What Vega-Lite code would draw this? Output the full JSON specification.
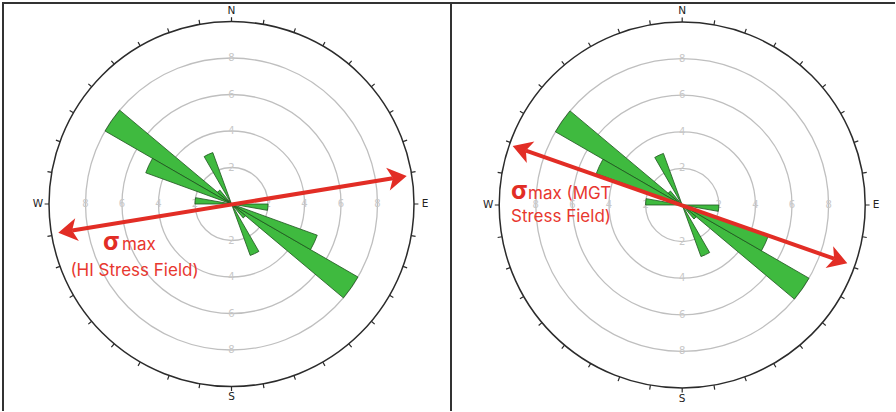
{
  "$schema": "https://vega.github.io/schema/vega-lite/v6.json",
  "background": "white",
  "padding": {"left": 2, "top": 2, "right": 0, "bottom": 0},
  "spacing": 0,
  "bounds": "flush",
  "config": {
    "view": {"stroke": null},
    "axis": {"disable": true},
    "legend": {"disable": true},
    "text": {"font": "Inter"}
  },
  "resolve": {"scale": {"angle": "independent"}},
  "datasets": {
    "rings": [{"r": 2}, {"r": 4}, {"r": 6}, {"r": 8}],
    "outer": [{"r": 10}],
    "ringLabels": [
      {"az": 0, "r": 2}, {"az": 0, "r": 4}, {"az": 0, "r": 6}, {"az": 0, "r": 8},
      {"az": 90, "r": 2}, {"az": 90, "r": 4}, {"az": 90, "r": 6}, {"az": 90, "r": 8},
      {"az": 180, "r": 2}, {"az": 180, "r": 4}, {"az": 180, "r": 6}, {"az": 180, "r": 8},
      {"az": 270, "r": 2}, {"az": 270, "r": 4}, {"az": 270, "r": 6}, {"az": 270, "r": 8}
    ],
    "compass": [
      {"az": 0, "dir": "N"}, {"az": 90, "dir": "E"}, {"az": 180, "dir": "S"}, {"az": 270, "dir": "W"}
    ],
    "ticks": [
      {"az": 0}, {"az": 10}, {"az": 20}, {"az": 30}, {"az": 40}, {"az": 50},
      {"az": 60}, {"az": 70}, {"az": 80}, {"az": 90}, {"az": 100}, {"az": 110},
      {"az": 120}, {"az": 130}, {"az": 140}, {"az": 150}, {"az": 160}, {"az": 170},
      {"az": 180}, {"az": 190}, {"az": 200}, {"az": 210}, {"az": 220}, {"az": 230},
      {"az": 240}, {"az": 250}, {"az": 260}, {"az": 270}, {"az": 280}, {"az": 290},
      {"az": 300}, {"az": 310}, {"az": 320}, {"az": 330}, {"az": 340}, {"az": 350}
    ],
    "petals": [
      {"a1": 300, "a2": 310, "n": 8}, {"a1": 120, "a2": 130, "n": 8},
      {"a1": 290, "a2": 300, "n": 5}, {"a1": 110, "a2": 120, "n": 5},
      {"a1": 330, "a2": 340, "n": 3}, {"a1": 150, "a2": 160, "n": 3},
      {"a1": 270, "a2": 280, "n": 2}, {"a1": 90, "a2": 100, "n": 2},
      {"a1": 310, "a2": 320, "n": 1}, {"a1": 130, "a2": 140, "n": 1}
    ],
    "hiArrow": [{"end": "W", "x": -8.734, "y": -1.449}, {"end": "E", "x": 8.844, "y": 1.411}],
    "mgtArrow": [{"end": "W", "x": -8.565, "y": 2.981}, {"end": "E", "x": 8.323, "y": -2.942}]
  },
  "hconcat": [
    {
      "width": 448,
      "height": 408,
      "view": {"stroke": "#333333", "strokeWidth": 2, "strokeDash": [448, 856, 408]},
      "layer": [
        {
          "data": {"name": "rings"},
          "mark": {"type": "arc", "filled": false, "stroke": "#bfbfbf", "strokeWidth": 1.3},
          "encoding": {
            "x": {"datum": 0, "scale": {"domain": [-12.521, 12.027], "nice": false, "zero": false}},
            "y": {"datum": 0, "scale": {"domain": [-11.342, 11.014], "nice": false, "zero": false}},
            "theta": {"datum": 0, "scale": {"type": "linear", "domain": [0, 360], "zero": false}},
            "theta2": {"datum": 360},
            "radius": {"field": "r", "type": "quantitative", "stack": null, "scale": {"type": "linear", "domain": [0, 10], "range": [0, 182.5], "zero": true}}
          }
        },
        {
          "data": {"name": "ringLabels"},
          "mark": {"type": "text", "color": "#c8c8c8", "fontSize": 10, "font": "DejaVu Sans", "align": "center", "baseline": "middle"},
          "encoding": {
            "x": {"datum": 0},
            "y": {"datum": 0},
            "theta": {"field": "az", "type": "quantitative", "stack": null},
            "radius": {"field": "r", "type": "quantitative", "stack": null, "scale": {"type": "linear"}},
            "text": {"field": "r", "type": "quantitative"}
          }
        },
        {
          "data": {"name": "outer"},
          "mark": {"type": "arc", "filled": false, "stroke": "#2b2b2b", "strokeWidth": 1.5},
          "encoding": {
            "x": {"datum": 0},
            "y": {"datum": 0},
            "theta": {"datum": 0},
            "theta2": {"datum": 360},
            "radius": {"field": "r", "type": "quantitative", "stack": null, "scale": {"type": "linear"}}
          }
        },
        {
          "data": {"name": "ticks"},
          "mark": {"type": "arc", "filled": false, "stroke": "#2b2b2b", "strokeWidth": 1.2},
          "encoding": {
            "x": {"datum": 0},
            "y": {"datum": 0},
            "theta": {"field": "az", "type": "quantitative", "stack": null},
            "theta2": {"field": "az"},
            "radius": {"datum": 10, "scale": {"type": "linear"}},
            "radius2": {"datum": 10.24}
          }
        },
        {
          "data": {"name": "compass"},
          "mark": {"type": "text", "color": "#222222", "fontSize": 10.5, "font": "DejaVu Sans", "align": "center", "baseline": "middle"},
          "encoding": {
            "x": {"datum": 0},
            "y": {"datum": 0},
            "theta": {"field": "az", "type": "quantitative", "stack": null},
            "radius": {"datum": 10.6, "scale": {"type": "linear"}},
            "text": {"field": "dir"}
          }
        },
        {
          "data": {"name": "petals"},
          "mark": {"type": "arc", "fill": "#3fba3f", "stroke": "#1d531d", "strokeWidth": 0.8},
          "encoding": {
            "x": {"datum": 0},
            "y": {"datum": 0},
            "theta": {"field": "a1", "type": "quantitative", "stack": null},
            "theta2": {"field": "a2"},
            "radius": {"field": "n", "type": "quantitative", "stack": null, "scale": {"type": "linear"}}
          }
        },
        {
          "data": {"name": "hiArrow"},
          "mark": {"type": "line", "color": "#e22d25", "strokeWidth": 4, "strokeCap": "butt"},
          "encoding": {
            "x": {"field": "x", "type": "quantitative"},
            "y": {"field": "y", "type": "quantitative"}
          }
        },
        {
          "data": {"name": "hiArrow"},
          "mark": {"type": "point", "shape": "M1.4,0L-0.5,-1.15L0,0L-0.5,1.15Z", "size": 400, "filled": true, "opacity": 1, "color": "#e22d25", "strokeWidth": 0},
          "encoding": {
            "x": {"field": "x", "type": "quantitative"},
            "y": {"field": "y", "type": "quantitative"},
            "angle": {"field": "end", "type": "nominal", "scale": {"domain": ["W", "E"], "range": [170.8, 350.8]}, "legend": null}
          }
        },
        {
          "data": {"values": [{"t": "σ"}]},
          "mark": {"type": "text", "color": "#e22d25", "fontSize": 25, "fontWeight": "bold", "align": "left", "baseline": "alphabetic"},
          "encoding": {"x": {"datum": -7.04}, "y": {"datum": -2.52}, "text": {"field": "t"}}
        },
        {
          "data": {"values": [{"t": "max"}]},
          "mark": {"type": "text", "color": "#e8372f", "fontSize": 17, "align": "left", "baseline": "alphabetic"},
          "encoding": {"x": {"datum": -6.0}, "y": {"datum": -2.52}, "text": {"field": "t"}}
        },
        {
          "data": {"values": [{"t": "(HI Stress Field)"}]},
          "mark": {"type": "text", "color": "#e8372f", "fontSize": 17, "align": "center", "baseline": "alphabetic"},
          "encoding": {"x": {"datum": -5.315}, "y": {"datum": -3.945}, "text": {"field": "t"}}
        }
      ]
    },
    {
      "width": 444,
      "height": 408,
      "view": {"stroke": "#333333", "strokeWidth": 2, "strokeDash": [444, 852, 408]},
      "layer": [
        {
          "data": {"name": "rings"},
          "mark": {"type": "arc", "filled": false, "stroke": "#bfbfbf", "strokeWidth": 1.3},
          "encoding": {
            "x": {"datum": 0, "scale": {"domain": [-12.668, 11.66], "nice": false, "zero": false}},
            "y": {"datum": 0, "scale": {"domain": [-11.288, 11.068], "nice": false, "zero": false}},
            "theta": {"datum": 0, "scale": {"type": "linear", "domain": [0, 360], "zero": false}},
            "theta2": {"datum": 360},
            "radius": {"field": "r", "type": "quantitative", "stack": null, "scale": {"type": "linear", "domain": [0, 10], "range": [0, 183], "zero": true}}
          }
        },
        {
          "data": {"name": "ringLabels"},
          "mark": {"type": "text", "color": "#c8c8c8", "fontSize": 10, "font": "DejaVu Sans", "align": "center", "baseline": "middle"},
          "encoding": {
            "x": {"datum": 0},
            "y": {"datum": 0},
            "theta": {"field": "az", "type": "quantitative", "stack": null},
            "radius": {"field": "r", "type": "quantitative", "stack": null, "scale": {"type": "linear"}},
            "text": {"field": "r", "type": "quantitative"}
          }
        },
        {
          "data": {"name": "outer"},
          "mark": {"type": "arc", "filled": false, "stroke": "#2b2b2b", "strokeWidth": 1.5},
          "encoding": {
            "x": {"datum": 0},
            "y": {"datum": 0},
            "theta": {"datum": 0},
            "theta2": {"datum": 360},
            "radius": {"field": "r", "type": "quantitative", "stack": null, "scale": {"type": "linear"}}
          }
        },
        {
          "data": {"name": "ticks"},
          "mark": {"type": "arc", "filled": false, "stroke": "#2b2b2b", "strokeWidth": 1.2},
          "encoding": {
            "x": {"datum": 0},
            "y": {"datum": 0},
            "theta": {"field": "az", "type": "quantitative", "stack": null},
            "theta2": {"field": "az"},
            "radius": {"datum": 10, "scale": {"type": "linear"}},
            "radius2": {"datum": 10.24}
          }
        },
        {
          "data": {"name": "compass"},
          "mark": {"type": "text", "color": "#222222", "fontSize": 10.5, "font": "DejaVu Sans", "align": "center", "baseline": "middle"},
          "encoding": {
            "x": {"datum": 0},
            "y": {"datum": 0},
            "theta": {"field": "az", "type": "quantitative", "stack": null},
            "radius": {"datum": 10.6, "scale": {"type": "linear"}},
            "text": {"field": "dir"}
          }
        },
        {
          "data": {"name": "petals"},
          "mark": {"type": "arc", "fill": "#3fba3f", "stroke": "#1d531d", "strokeWidth": 0.8},
          "encoding": {
            "x": {"datum": 0},
            "y": {"datum": 0},
            "theta": {"field": "a1", "type": "quantitative", "stack": null},
            "theta2": {"field": "a2"},
            "radius": {"field": "n", "type": "quantitative", "stack": null, "scale": {"type": "linear"}}
          }
        },
        {
          "data": {"name": "mgtArrow"},
          "mark": {"type": "line", "color": "#e22d25", "strokeWidth": 4, "strokeCap": "butt"},
          "encoding": {
            "x": {"field": "x", "type": "quantitative"},
            "y": {"field": "y", "type": "quantitative"}
          }
        },
        {
          "data": {"name": "mgtArrow"},
          "mark": {"type": "point", "shape": "M1.4,0L-0.5,-1.15L0,0L-0.5,1.15Z", "size": 400, "filled": true, "opacity": 1, "color": "#e22d25", "strokeWidth": 0},
          "encoding": {
            "x": {"field": "x", "type": "quantitative"},
            "y": {"field": "y", "type": "quantitative"},
            "angle": {"field": "end", "type": "nominal", "scale": {"domain": ["W", "E"], "range": [199.3, 19.3]}, "legend": null}
          }
        },
        {
          "data": {"values": [{"t": "σ"}]},
          "mark": {"type": "text", "color": "#e22d25", "fontSize": 25, "fontWeight": "bold", "align": "left", "baseline": "alphabetic"},
          "encoding": {"x": {"datum": -9.381}, "y": {"datum": 0.329}, "text": {"field": "t"}}
        },
        {
          "data": {"values": [{"t": "max (MGT"}]},
          "mark": {"type": "text", "color": "#e8372f", "fontSize": 17, "align": "left", "baseline": "alphabetic"},
          "encoding": {"x": {"datum": -8.449}, "y": {"datum": 0.329}, "text": {"field": "t"}}
        },
        {
          "data": {"values": [{"t": "Stress Field)"}]},
          "mark": {"type": "text", "color": "#e8372f", "fontSize": 17, "align": "left", "baseline": "alphabetic"},
          "encoding": {"x": {"datum": -9.381}, "y": {"datum": -0.932}, "text": {"field": "t"}}
        }
      ]
    }
  ]
}
